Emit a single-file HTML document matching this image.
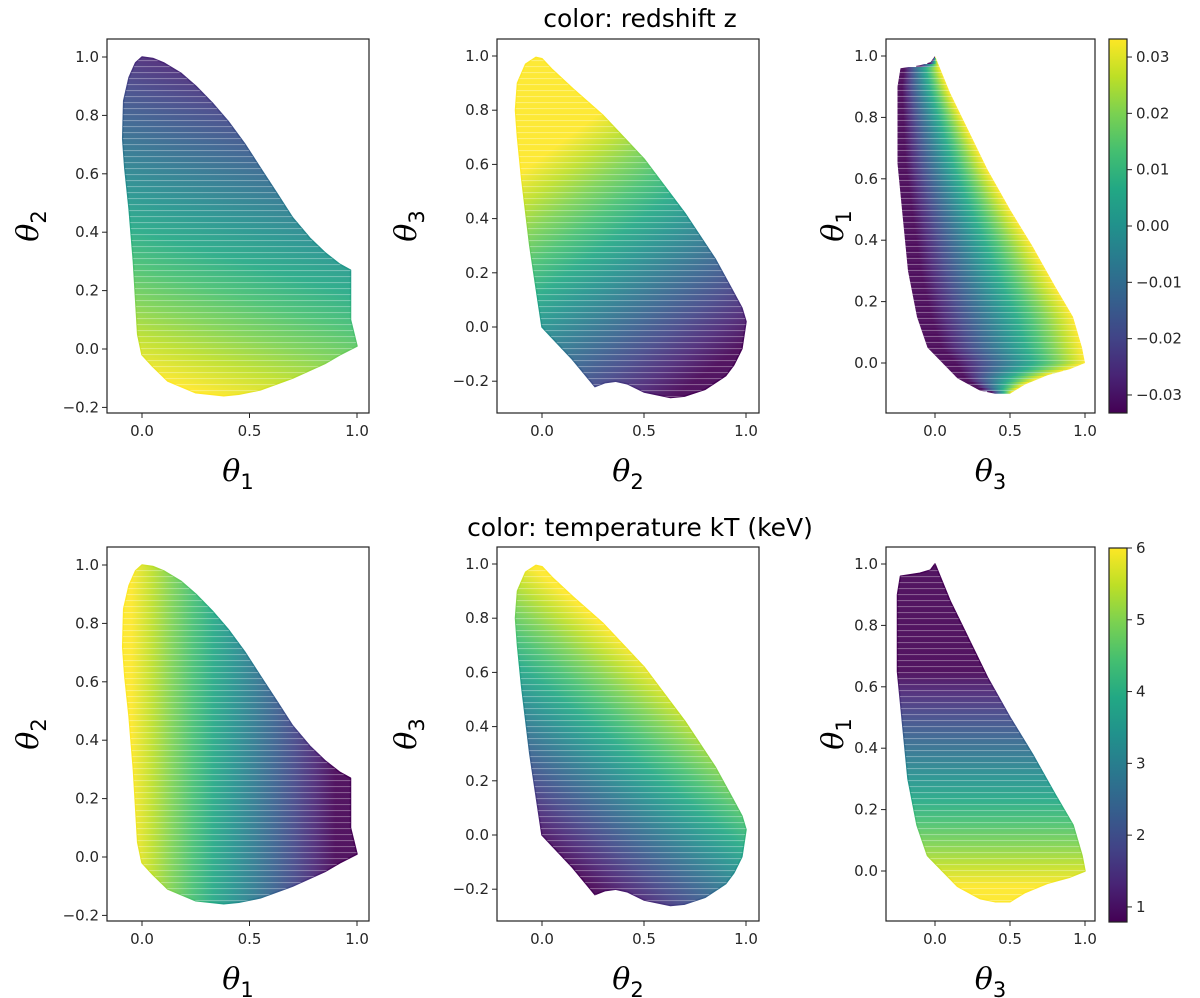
<!DOCTYPE html>
<html><head><meta charset="utf-8">
<style>
html,body{margin:0;padding:0;background:#fff;}
svg{display:block;font-family:"DejaVu Sans","Liberation Sans",sans-serif;}
.tk{font-size:15px;fill:#262626;}
.ax{font-size:30px;fill:#000;font-style:italic;font-family:"DejaVu Serif","Liberation Serif",serif;}
.sub{font-size:21px;font-style:normal;font-family:"DejaVu Sans","Liberation Sans",sans-serif;}
.ttl{font-size:25px;fill:#000;}
</style></head>
<body>
<svg id="fig" width="1200" height="998" viewBox="0 0 1200 998" xmlns="http://www.w3.org/2000/svg">
<defs>
<pattern id="stripes" width="8" height="6" patternUnits="userSpaceOnUse">
<rect width="8" height="1.1" fill="#fff" opacity="0.3"/>
</pattern>
</defs>
<text class="ttl" x="640" y="27" text-anchor="middle">color: redshift z</text>
<text class="ttl" x="640" y="536" text-anchor="middle">color: temperature kT (keV)</text>
</svg>
<script>
// Viridis colormap
const viridis = ["#440154","#482475","#414487","#355f8d","#2a788e","#21918c","#22a884","#44bf70","#7ad151","#bddf26","#fde725"];

// Shape outlines (data coords) of each scatter cloud
const shapeA = [[0,1.0],[0.05,0.995],[0.1,0.98],[0.18,0.945],[0.25,0.9],[0.33,0.84],[0.4,0.78],[0.48,0.7],[0.55,0.62],[0.63,0.53],[0.7,0.45],[0.78,0.38],[0.85,0.33],[0.92,0.29],[0.97,0.27],[0.97,0.1],[1.0,0.01],[0.92,-0.02],[0.85,-0.05],[0.7,-0.1],[0.55,-0.14],[0.45,-0.155],[0.38,-0.16],[0.25,-0.15],[0.12,-0.11],[0.05,-0.06],[0.0,-0.02],[-0.02,0.05],[-0.04,0.3],[-0.06,0.48],[-0.08,0.62],[-0.09,0.72],[-0.085,0.85],[-0.06,0.93],[-0.03,0.98]];
const shapeB = [[0.0,0.0],[-0.02,0.1],[-0.06,0.3],[-0.1,0.55],[-0.12,0.7],[-0.13,0.8],[-0.12,0.9],[-0.08,0.97],[-0.03,0.995],[0.0,0.99],[0.05,0.95],[0.15,0.88],[0.3,0.78],[0.5,0.62],[0.7,0.42],[0.85,0.25],[0.93,0.14],[0.98,0.07],[1.0,0.02],[0.98,-0.08],[0.94,-0.14],[0.9,-0.18],[0.8,-0.23],[0.7,-0.255],[0.63,-0.26],[0.5,-0.24],[0.42,-0.21],[0.36,-0.2],[0.31,-0.205],[0.26,-0.22],[0.15,-0.12],[0.05,-0.04]];
const shapeC = [[-0.23,0.96],[-0.1,0.97],[-0.03,0.98],[0.0,1.0],[0.1,0.88],[0.2,0.78],[0.35,0.63],[0.5,0.5],[0.65,0.38],[0.8,0.25],[0.92,0.15],[0.98,0.05],[1.0,0.0],[0.9,-0.02],[0.75,-0.04],[0.6,-0.07],[0.5,-0.1],[0.4,-0.1],[0.3,-0.09],[0.15,-0.05],[0.05,0.0],[-0.05,0.05],[-0.12,0.15],[-0.18,0.3],[-0.22,0.5],[-0.25,0.65],[-0.25,0.8],[-0.25,0.9]];

// Colour gradients: [start point (cmap min), end point (cmap max)] in data coords
const gradTopA = [[0.6,1.0],[0.15,-0.12]];
const gradTopB = [[0.75,-0.2],[-0.05,0.6]];
const gradBotA = [[0.9,0.4],[-0.05,0.4]];
const gradBotB = [[0.1,-0.1],[0.75,0.5]];
const gradBotC = [[0.3,0.65],[0.3,-0.05]];
// Row-wise colour ramp: [cmap fraction at left edge, at right edge]
const rampTopC = [-0.1,1.0];

// Ticks
const xTicks = [0.0,0.5,1.0];
const xTickLabels = ["0.0","0.5","1.0"];
const yTicksAB = [-0.2,0.0,0.2,0.4,0.6,0.8,1.0];
const yTickLabelsAB = ["\u22120.2","0.0","0.2","0.4","0.6","0.8","1.0"];
const yTicksC = [0.0,0.2,0.4,0.6,0.8,1.0];
const yTickLabelsC = ["0.0","0.2","0.4","0.6","0.8","1.0"];
const cbTopTicks = [-0.03,-0.02,-0.01,0.00,0.01,0.02,0.03];
const cbTopLabels = ["\u22120.03","\u22120.02","\u22120.01","0.00","0.01","0.02","0.03"];
const cbBotTicks = [1,2,3,4,5,6];
const cbBotLabels = ["1","2","3","4","5","6"];

const NS="http://www.w3.org/2000/svg";
const svg=document.getElementById('fig');
const defs=svg.querySelector('defs');
function mk(tag,attrs,parent){const e=document.createElementNS(NS,tag);for(const k in attrs)e.setAttribute(k,attrs[k]);(parent||svg).appendChild(e);return e;}

function panel(id,box,xs,ys,shape,grad,ramp,yT,yL,xlab,ylab,ylabX){
  const [x0,y0,x1,y1]=box;
  const sx=v=>xs[0]+v*(xs[1]-xs[0]);
  const sy=v=>ys[0]+v*(ys[1]-ys[0]);
  const grp=mk('g',{});
  
  
  const P=shape.map(p=>[sx(p[0]),sy(p[1])]);
  const pts=P.map(p=>p[0].toFixed(1)+','+p[1].toFixed(1)).join(' ');
  if(grad){
    const g=mk('linearGradient',{id:'g'+id,gradientUnits:'userSpaceOnUse',x1:sx(grad[0][0]),y1:sy(grad[0][1]),x2:sx(grad[1][0]),y2:sy(grad[1][1])},defs);
    viridis.forEach((c,i)=>mk('stop',{offset:i/10,'stop-color':c},g));
    const cloud=mk('polygon',{points:pts,fill:'url(#g'+id+')','stroke':'url(#g'+id+')','stroke-width':1.5,'stroke-linejoin':'round','fill-opacity':0.92},grp);
    
    
  } else {
    const cp=mk('clipPath',{id:'cp'+id},defs);
    mk('polygon',{points:pts},cp);
    const cg=mk('g',{'clip-path':'url(#cp'+id+')'},grp);
    
    
    const ymin=Math.min(...P.map(p=>p[1])), ymax=Math.max(...P.map(p=>p[1]));
    for(let y=ymin-1;y<ymax+1;y+=3){
      const yc=Math.min(Math.max(y+1.5,ymin+0.5),ymax-0.5);
      const xsI=[];
      for(let i=0;i<P.length;i++){const a=P[i],b=P[(i+1)%P.length];
        if((a[1]-yc)*(b[1]-yc)<=0&&a[1]!==b[1]){xsI.push(a[0]+(yc-a[1])/(b[1]-a[1])*(b[0]-a[0]));}}
      if(xsI.length<2)continue;
      const xl=Math.min(...xsI),xr=Math.max(...xsI);
      const gid='r'+id+Math.round(y);
      const g=mk('linearGradient',{id:gid,gradientUnits:'userSpaceOnUse',x1:xl,y1:0,x2:xr,y2:0},defs);
      viridis.forEach((c,i)=>{const f=i/10;const t=(f-ramp[0])/(ramp[1]-ramp[0]);mk('stop',{offset:t,'stop-color':c},g);});
      const st=[...g.childNodes].sort((p,q)=>p.getAttribute('offset')-q.getAttribute('offset'));st.forEach(s=>g.appendChild(s));
      mk('rect',{x:xl-2,y:y,width:xr-xl+4,height:3.4,fill:'url(#'+gid+')','fill-opacity':0.92},cg);
    }
  }
  const tex=mk('polygon',{points:pts,fill:'url(#stripes)'},grp);
  
  
  const frame=mk('rect',{x:x0,y:y0,width:x1-x0,height:y1-y0,fill:'none',stroke:'#222','stroke-width':1.2},grp);
  
  
  xTicks.forEach((v,i)=>{
    const X=sx(v);
    mk('line',{x1:X,x2:X,y1:y1,y2:y1+5,stroke:'#222','stroke-width':1},grp);
    const t=mk('text',{class:'tk',x:X,y:y1+23,'text-anchor':'middle'},grp);t.textContent=xTickLabels[i];
    
    
  });
  yT.forEach((v,i)=>{
    const Y=sy(v);
    mk('line',{x1:x0-5,x2:x0,y1:Y,y2:Y,stroke:'#222','stroke-width':1},grp);
    const t=mk('text',{class:'tk',x:x0-8,y:Y+5,'text-anchor':'end'},grp);t.textContent=yL[i];
    
    
  });
  const xl=mk('text',{class:'ax',x:(x0+x1)/2,y:y1+68,'text-anchor':'middle'},grp);
  xl.innerHTML='θ<tspan class="sub" dy="8">'+xlab+'</tspan>';
  
  
  const cy=(y0+y1)/2;
  const yl=mk('text',{class:'ax',x:0,y:0,'text-anchor':'middle',transform:'translate('+ylabX+','+cy+') rotate(-90)'},grp);
  yl.innerHTML='θ<tspan class="sub" dy="8">'+ylab+'</tspan>';
  
  
}

function colorbar(id,box,vmin,vmax,ticks,labels){
  const [x0,y0,x1,y1]=box;
  const sy=v=>y1-(v-vmin)/(vmax-vmin)*(y1-y0);
  const g=mk('linearGradient',{id:'cb'+id,x1:0,y1:1,x2:0,y2:0},defs);
  viridis.forEach((c,i)=>mk('stop',{offset:i/10,'stop-color':c},g));
  const grp=mk('g',{});
  
  
  mk('rect',{x:x0,y:y0,width:x1-x0,height:y1-y0,fill:'url(#cb'+id+')',stroke:'#222','stroke-width':1.2},grp);
  ticks.forEach((v,i)=>{
    const Y=sy(v);
    mk('line',{x1:x1,x2:x1+5,y1:Y,y2:Y,stroke:'#222','stroke-width':1},grp);
    const t=mk('text',{class:'tk',x:x1+9,y:Y+5},grp);t.textContent=labels[i];
    
    
  });
}

const D=508;
panel('top-a',[107,39,369,413],[142,357],[349,57],shapeA,gradTopA,null,yTicksAB,yTickLabelsAB,'1','2',38);
panel('top-b',[497,39,759,413],[542,746],[327,56],shapeB,gradTopB,null,yTicksAB,yTickLabelsAB,'2','3',416);
panel('top-c',[886,39,1095,413],[935,1085],[363,56],shapeC,null,rampTopC,yTicksC,yTickLabelsC,'3','1',843);
panel('bot-a',[107,39+D,369,413+D],[142,357],[349+D,57+D],shapeA,gradBotA,null,yTicksAB,yTickLabelsAB,'1','2',38);
panel('bot-b',[497,39+D,759,413+D],[542,746],[327+D,56+D],shapeB,gradBotB,null,yTicksAB,yTickLabelsAB,'2','3',416);
panel('bot-c',[886,39+D,1095,413+D],[935,1085],[363+D,56+D],shapeC,gradBotC,null,yTicksC,yTickLabelsC,'3','1',843);
colorbar('top',[1109,39,1127,413],-0.0332,0.0332,cbTopTicks,cbTopLabels);
colorbar('bot',[1109,548,1127,922],0.79,6.0,cbBotTicks,cbBotLabels);
</script>
</body></html>
